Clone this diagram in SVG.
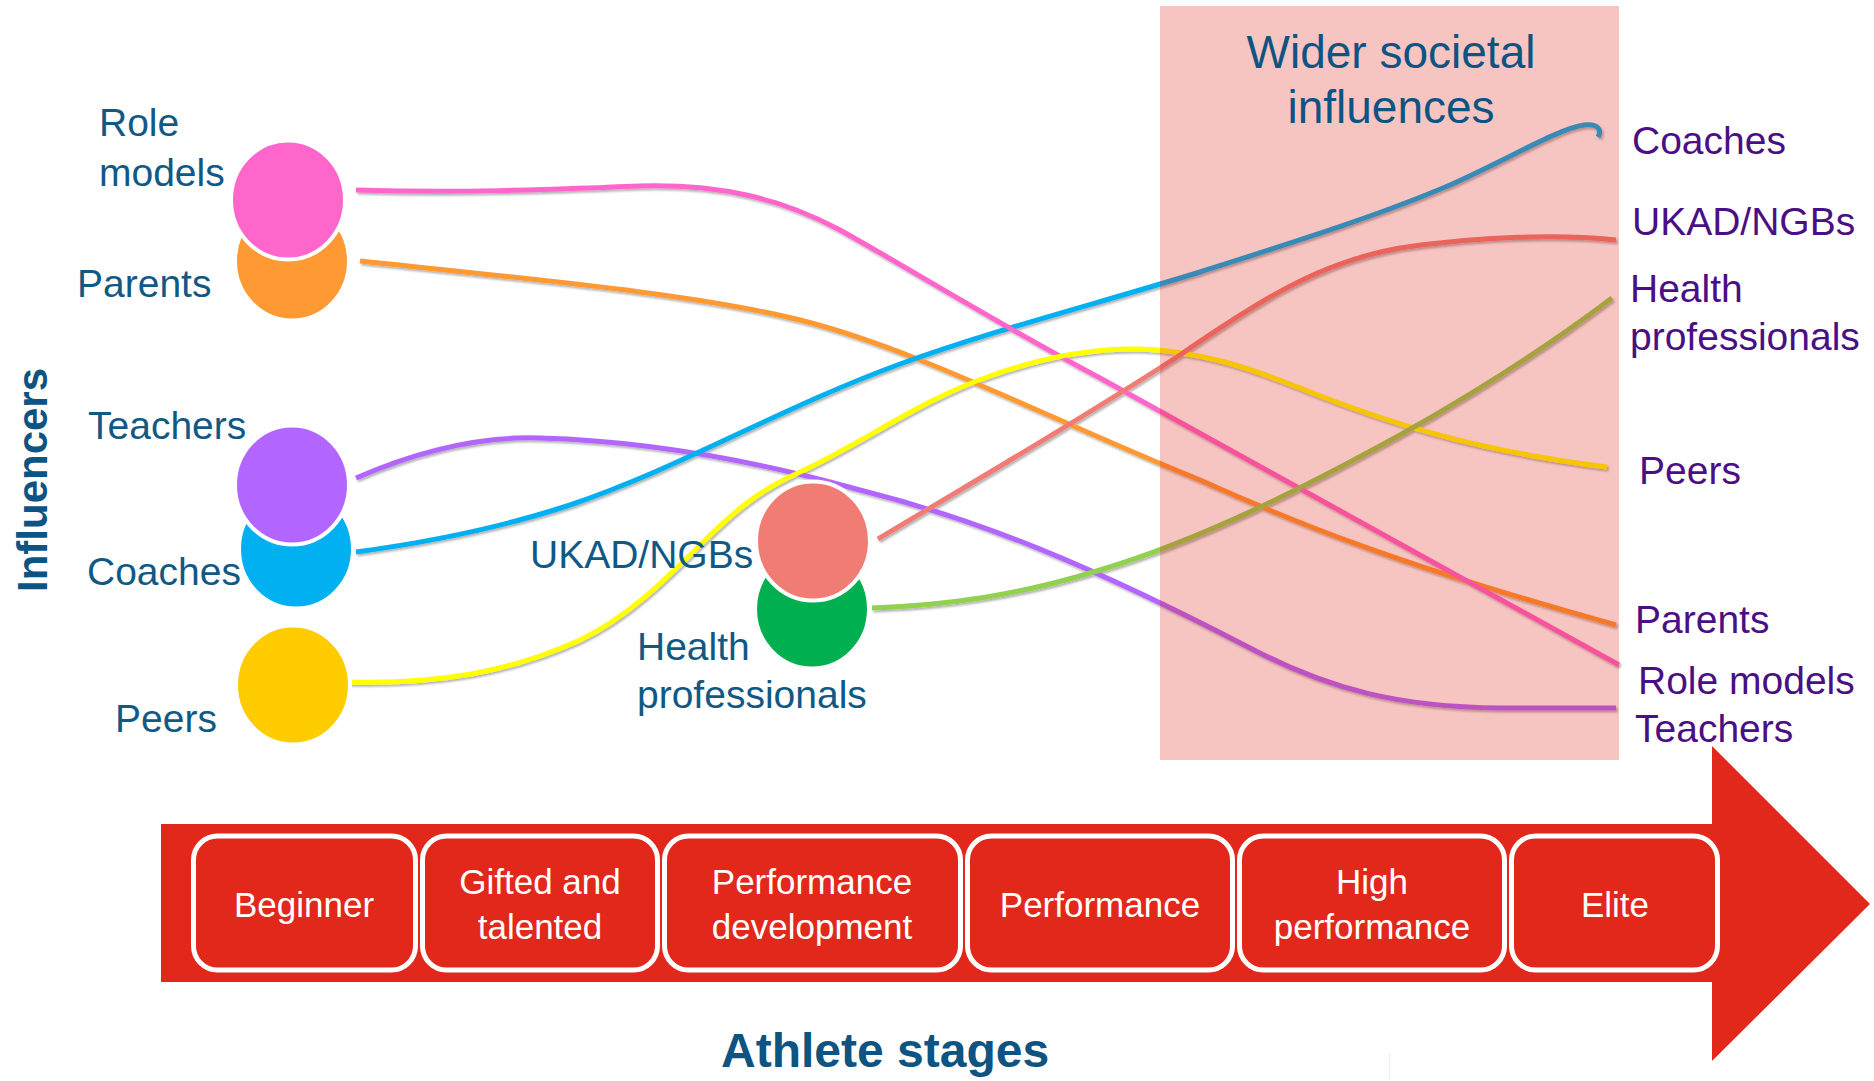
<svg xmlns="http://www.w3.org/2000/svg" width="1874" height="1081" viewBox="0 0 1874 1081">
<defs>
<style>
text{font-family:"Liberation Sans",Arial,sans-serif}
.lbl{font-size:39px;fill:#115985}
.rl{font-size:39px;fill:#4A0F84}
.box{fill:#E2281B;stroke:#fff;stroke-width:5}
.st{font-size:35px;fill:#fff;text-anchor:middle}
.ln{fill:none;stroke-width:5;stroke-linecap:butt}
.node{stroke:#fff;stroke-width:4}
.ttl{font-size:46px;fill:#0E5482;text-anchor:middle}
</style>
<filter id="sh" filterUnits="userSpaceOnUse" x="0" y="0" width="1874" height="1081">
<feDropShadow dx="1.5" dy="2" stdDeviation="1.3" flood-color="#000" flood-opacity="0.3"/>
</filter>
</defs>
<rect width="1874" height="1081" fill="#fff"/>

<g id="stages-arrow">
<path d="M161,824 H1712 V746 L1870,904 L1712,1061 V982 H161 Z" fill="#E2281B"/>
<g id="stage-beginner"><rect class="box" x="193.5" y="836" width="222" height="134" rx="24"/><text class="st" x="304" y="917">Beginner</text></g>
<g id="stage-gifted"><rect class="box" x="422.5" y="836" width="235" height="134" rx="24"/><text class="st" x="540" y="894">Gifted and</text><text class="st" x="540" y="939">talented</text></g>
<g id="stage-perfdev"><rect class="box" x="664.5" y="836" width="296" height="134" rx="24"/><text class="st" x="812" y="894">Performance</text><text class="st" x="812" y="939">development</text></g>
<g id="stage-performance"><rect class="box" x="967.5" y="836" width="265" height="134" rx="24"/><text class="st" x="1100" y="917">Performance</text></g>
<g id="stage-high"><rect class="box" x="1239.5" y="836" width="265" height="134" rx="24"/><text class="st" x="1372" y="894">High</text><text class="st" x="1372" y="939">performance</text></g>
<g id="stage-elite"><rect class="box" x="1511.5" y="836" width="206" height="134" rx="24"/><text class="st" x="1615" y="917">Elite</text></g>
</g>

<g id="connectors" filter="url(#sh)">
<path class="ln" stroke="#FF9933" d="M360,261 C560,282 700,295 800,320 C920,350 1050,420 1200,480 C1300,525 1400,565 1616,625"/>
<path class="ln" stroke="#B266FF" d="M356,478 C420,450 480,436 540,438 C650,441 760,462 860,490 C980,520 1090,565 1250,648 C1330,690 1400,707 1500,708 L1616,708"/>
<path class="ln" stroke="#00B0F0" d="M356,552 C430,542 500,528 570,505 C680,468 780,408 900,364 C1000,328 1100,303 1200,272 C1300,240 1380,215 1450,185 C1510,158 1560,128 1584,125 C1598,123 1602,130 1598,137"/>
<path class="ln" stroke="#FF66CC" d="M356,190 C460,193 540,190 640,186 C720,184 780,198 840,230 C920,275 1000,325 1100,378 L1619,665"/>
<path class="ln" stroke="#FFFF00" d="M349,682 C440,684 510,672 580,640 C630,616 670,575 700,545 C735,510 760,490 800,472 C860,445 920,400 990,376 C1040,358 1090,348 1140,349 C1200,351 1250,368 1300,388 C1380,420 1470,450 1607,467"/>
<path class="ln" stroke="#F07C74" d="M878,539 C980,478 1080,420 1180,355 C1260,300 1320,262 1400,248 C1480,236 1560,234 1616,240"/>
<path class="ln" stroke="#92D050" d="M872,608 C950,605 1020,595 1100,570 C1200,540 1300,490 1400,435 C1480,390 1550,345 1612,298"/>
</g>

<g id="wider-societal">
<rect x="1160" y="6" width="459" height="754" fill="#DC1E13" fill-opacity="0.26"/>
<text class="ttl" x="1391" y="68">Wider societal</text>
<text class="ttl" x="1391" y="123">influences</text>
</g>

<g id="node-parents"><ellipse class="node" cx="292" cy="261" rx="57" ry="59.5" fill="#FF9933"/><text class="lbl" x="77" y="297">Parents</text></g>
<g id="node-rolemodels"><ellipse class="node" cx="288" cy="200" rx="57" ry="59.5" fill="#FF66CC"/><text class="lbl" x="99" y="136">Role</text><text class="lbl" x="99" y="186">models</text></g>
<g id="node-coaches"><ellipse class="node" cx="296" cy="549" rx="57" ry="59.5" fill="#00B0F0"/><text class="lbl" x="87" y="585">Coaches</text></g>
<g id="node-teachers"><ellipse class="node" cx="292" cy="485" rx="57" ry="59.5" fill="#B266FF"/><text class="lbl" x="88" y="439">Teachers</text></g>
<g id="node-peers"><ellipse class="node" cx="293" cy="685" rx="57" ry="59.5" fill="#FFCC00"/><text class="lbl" x="115" y="732">Peers</text></g>
<g id="node-health"><ellipse class="node" cx="812" cy="609" rx="57" ry="59.5" fill="#00B050"/><text class="lbl" x="637" y="660">Health</text><text class="lbl" x="637" y="708">professionals</text></g>
<g id="node-ukad"><ellipse class="node" cx="813" cy="541" rx="57" ry="59.5" fill="#F07C74"/><text class="lbl" x="530" y="568">UKAD/NGBs</text></g>

<g id="right-labels">
<text class="rl" x="1632" y="154">Coaches</text>
<text class="rl" x="1632" y="235">UKAD/NGBs</text>
<text class="rl" x="1630" y="302">Health</text>
<text class="rl" x="1630" y="350">professionals</text>
<text class="rl" x="1639" y="484">Peers</text>
<text class="rl" x="1635" y="633">Parents</text>
<text class="rl" x="1638" y="694">Role models</text>
<text class="rl" x="1635" y="742">Teachers</text>
</g>

<g id="axes">
<text x="47" y="592" transform="rotate(-90 47 592)" style="font-size:42px;font-weight:bold;fill:#0E5482">Influencers</text>
<text x="721" y="1067" style="font-size:48px;font-weight:bold;fill:#0E5482">Athlete stages</text>
<line x1="1389.5" y1="1053" x2="1389.5" y2="1080" stroke="#EDEDED" stroke-width="1"/>
</g>
</svg>
